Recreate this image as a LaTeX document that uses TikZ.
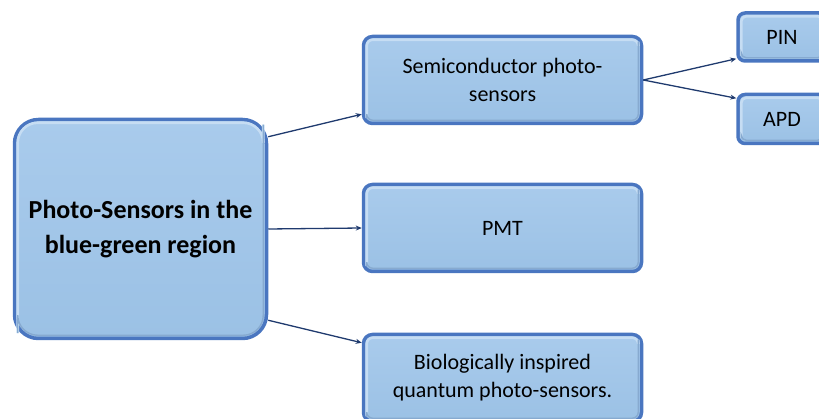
\documentclass[tikz,border=0pt]{standalone}
\usepackage{fontspec}
\setmainfont{Carlito}
\usetikzlibrary{arrows.meta,calc}
\definecolor{boxfill}{HTML}{9BC1E5}
\definecolor{boxtop}{HTML}{A9CBEC}
\definecolor{boxedge}{HTML}{4A76C0}
\definecolor{boxlight}{HTML}{C6DDF3}
\definecolor{boxshade}{HTML}{87AAD0}
\definecolor{linkcol}{HTML}{1F3A6E}

% inner bevel of a card: light upper/left rim, darker lower/right rim
\newcommand\cardbevel[2]{%
  \draw[boxlight, line width=2.6pt, rounded corners=#2]
    ([shift={(5pt,7pt)}]#1.south west) -- ([shift={(5pt,-5pt)}]#1.north west)
    -- ([shift={(-5pt,-5pt)}]#1.north east) -- ([shift={(-5pt,-7pt)}]#1.north east);
  \draw[boxshade, line width=1.4pt, rounded corners=#2]
    ([shift={(-5pt,-7pt)}]#1.north east) -- ([shift={(-5pt,5pt)}]#1.south east)
    -- ([shift={(5pt,5pt)}]#1.south west) -- ([shift={(5pt,7pt)}]#1.south west);
}

\begin{document}
\begin{tikzpicture}[x=1pt,y=-1pt,
  card/.style={draw=boxedge, line width=3.5pt, top color=boxtop, bottom color=boxfill,
    inner sep=0pt, align=center, text=black},
  smallcard/.style={card, rounded corners=9pt, font=\fontsize{22}{28}\selectfont},
  link/.style={draw=linkcol, line width=1.3pt, -{Stealth[length=6pt,width=5pt]}}]
  \useasboundingbox (0,0) rectangle (819,419);
  \clip (0,0) rectangle (819,419);

  % root
  \node[card, rounded corners=24pt, minimum width=252pt, minimum height=219pt,
        font=\fontsize{26}{35}\selectfont\bfseries] (root) at (140.5,229)
        {Photo-Sensors in the\\blue-green region};

  % second level
  \node[smallcard, minimum width=278pt, minimum height=87pt] (semi) at (502.5,80)
        {Semiconductor photo-\\sensors};
  \node[smallcard, minimum width=278pt, minimum height=87pt] (pmt) at (502.5,228) {PMT};
  \node[smallcard, minimum width=278pt, minimum height=87pt] (bio) at (502.5,378)
        {Biologically inspired\\quantum photo-sensors.};

  % third level
  \node[smallcard, rounded corners=7pt, minimum width=88pt, minimum height=48pt] (pin) at (782,37) {PIN};
  \node[smallcard, rounded corners=7pt, minimum width=88pt, minimum height=49pt] (apd) at (782,119) {APD};

  \cardbevel{root}{20pt}
  \cardbevel{semi}{6pt}
  \cardbevel{pmt}{6pt}
  \cardbevel{bio}{6pt}
  \cardbevel{pin}{5pt}
  \cardbevel{apd}{5pt}

  % connectors
  \coordinate (r1) at ([yshift=-19pt]root.north east);
  \coordinate (r3) at ([yshift=20pt]root.south east);
  \coordinate (s1) at ([yshift=11pt]semi.south west);
  \coordinate (b1) at ([yshift=-10pt]bio.north west);
  \coordinate (p1) at ([yshift=4pt]pin.south west);
  \coordinate (a1) at ([yshift=-5.5pt]apd.north west);
  \draw[link] (r1) -- (s1);
  \draw[link] (root.east) -- (pmt.west);
  \draw[link] (r3) -- (b1);
  \draw[link] (semi.east) -- (p1);
  \draw[link] (semi.east) -- (a1);
\end{tikzpicture}
\end{document}
